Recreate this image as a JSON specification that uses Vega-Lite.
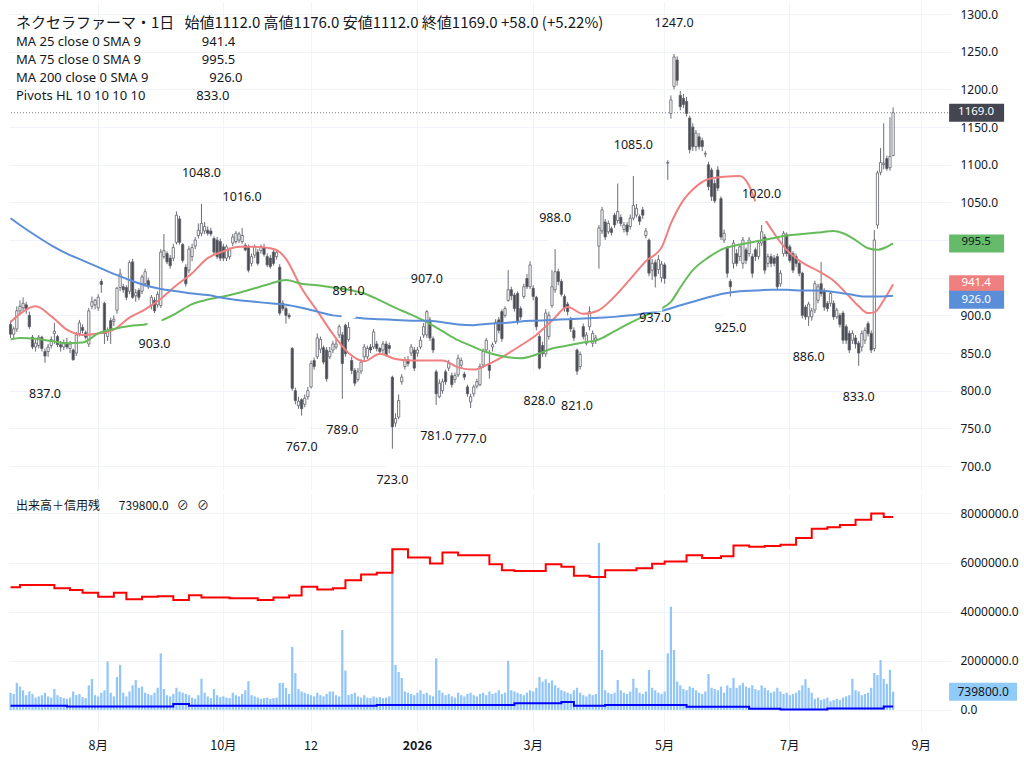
{
"$schema": "https://vega.github.io/schema/vega-lite/v6.json",
"background": "#ffffff",
"padding": {"left": 6, "top": 2, "right": 0, "bottom": 0},
"config": {"view": {"stroke": null}, "text": {"font": "Noto Sans"}},
"datasets": {
"k": [
{"d":"2025-06-23","o":888,"h":893,"l":870,"c":875,"v":700000,"m1":891,"m2":868,"m3":1029,"cr":4990000,"cs":170000},
{"d":"2025-06-24","o":875,"h":885,"l":868,"c":882,"v":650000},
{"d":"2025-06-25","o":882,"h":912,"l":878,"c":906,"v":1100000},
{"d":"2025-06-26","o":906,"h":920,"l":900,"c":912,"v":950000,"m1":902,"m2":870,"m3":1020,"cr":5080000},
{"d":"2025-06-27","o":910,"h":924,"l":905,"c":916,"v":800000},
{"d":"2025-06-30","o":914,"h":918,"l":902,"c":908,"v":600000},
{"d":"2025-07-01","o":900,"h":905,"l":882,"c":885,"v":750000},
{"d":"2025-07-02","o":871,"h":874,"l":855,"c":858,"v":650000},
{"d":"2025-07-03","o":858,"h":868,"l":852,"c":863,"v":500000,"m1":912,"m2":869,"m3":1006},
{"d":"2025-07-04","o":860,"h":874,"l":856,"c":871,"v":550000},
{"d":"2025-07-07","o":871,"h":873,"l":852,"c":856,"v":600000},
{"d":"2025-07-08","o":852,"h":856,"l":837,"c":846,"v":700000},
{"d":"2025-07-09","o":852,"h":862,"l":845,"c":858,"v":550000},
{"d":"2025-07-10","o":860,"h":872,"l":856,"c":868,"v":500000,"m1":899,"m2":866,"m3":993},
{"d":"2025-07-11","o":876,"h":890,"l":862,"c":879,"v":850000,"cr":4950000},
{"d":"2025-07-14","o":872,"h":874,"l":858,"c":861,"v":600000},
{"d":"2025-07-15","o":861,"h":866,"l":852,"c":858,"v":520000},
{"d":"2025-07-16","o":858,"h":868,"l":854,"c":864,"v":480000},
{"d":"2025-07-17","o":864,"h":870,"l":855,"c":858,"v":450000,"m1":881,"m2":863,"m3":982,"cs":140000},
{"d":"2025-07-18","o":856,"h":866,"l":850,"c":862,"v":500000,"cr":4880000},
{"d":"2025-07-22","o":854,"h":856,"l":840,"c":841,"v":750000},
{"d":"2025-07-23","o":850,"h":878,"l":846,"c":874,"v":600000},
{"d":"2025-07-24","o":876,"h":894,"l":872,"c":890,"v":650000},
{"d":"2025-07-25","o":884,"h":888,"l":876,"c":880,"v":520000,"m1":874,"m2":864,"m3":973,"cr":4770000},
{"d":"2025-07-28","o":877,"h":880,"l":868,"c":871,"v":480000},
{"d":"2025-07-29","o":862,"h":910,"l":858,"c":906,"v":1000000},
{"d":"2025-07-30","o":912,"h":925,"l":908,"c":918,"v":1260000},
{"d":"2025-07-31","o":914,"h":922,"l":908,"c":920,"v":600000},
{"d":"2025-08-01","o":910,"h":928,"l":906,"c":924,"v":550000,"m1":876,"m2":876,"m3":964,"cr":4610000},
{"d":"2025-08-04","o":945,"h":948,"l":930,"c":941,"v":700000},
{"d":"2025-08-05","o":916,"h":918,"l":862,"c":876,"v":800000},
{"d":"2025-08-06","o":872,"h":884,"l":866,"c":880,"v":1970000},
{"d":"2025-08-07","o":893,"h":897,"l":862,"c":880,"v":700000},
{"d":"2025-08-08","o":892,"h":900,"l":886,"c":895,"v":550000,"m1":881,"m2":882,"m3":955,"cr":4770000},
{"d":"2025-08-12","o":907,"h":938,"l":902,"c":936,"v":1340000},
{"d":"2025-08-13","o":937,"h":962,"l":932,"c":955,"v":1830000},
{"d":"2025-08-14","o":938,"h":942,"l":930,"c":934,"v":700000},
{"d":"2025-08-15","o":937,"h":940,"l":920,"c":924,"v":550000,"cr":4500000},
{"d":"2025-08-18","o":932,"h":973,"l":928,"c":970,"v":750000,"m1":897,"m2":886,"m3":947},
{"d":"2025-08-19","o":971,"h":975,"l":922,"c":924,"v":1000000},
{"d":"2025-08-20","o":926,"h":935,"l":918,"c":930,"v":1220000},
{"d":"2025-08-21","o":933,"h":936,"l":920,"c":924,"v":900000},
{"d":"2025-08-22","o":932,"h":954,"l":928,"c":951,"v":950000,"cr":4610000},
{"d":"2025-08-25","o":942,"h":962,"l":938,"c":958,"v":700000,"m1":908,"m2":888,"m3":940},
{"d":"2025-08-26","o":946,"h":950,"l":935,"c":938,"v":650000},
{"d":"2025-08-27","o":913,"h":927,"l":908,"c":924,"v":600000},
{"d":"2025-08-28","o":920,"h":924,"l":903,"c":906,"v":700000},
{"d":"2025-08-29","o":914,"h":932,"l":910,"c":928,"v":900000,"cr":4630000},
{"d":"2025-09-01","o":913,"h":988,"l":910,"c":984,"v":2300000,"m1":922,"m2":893,"m3":935},
{"d":"2025-09-02","o":978,"h":1008,"l":975,"c":986,"v":850000},
{"d":"2025-09-03","o":982,"h":985,"l":968,"c":971,"v":600000},
{"d":"2025-09-04","o":976,"h":980,"l":962,"c":966,"v":550000},
{"d":"2025-09-05","o":976,"h":995,"l":972,"c":990,"v":650000,"cr":4470000,"cs":240000},
{"d":"2025-09-08","o":997,"h":1038,"l":994,"c":1033,"v":900000,"m1":940,"m2":903,"m3":932},
{"d":"2025-09-09","o":1028,"h":1032,"l":994,"c":997,"v":750000},
{"d":"2025-09-10","o":994,"h":996,"l":970,"c":973,"v":700000},
{"d":"2025-09-11","o":964,"h":968,"l":938,"c":942,"v":650000},
{"d":"2025-09-12","o":960,"h":992,"l":956,"c":988,"v":600000,"cr":4670000,"cs":170000},
{"d":"2025-09-16","o":978,"h":995,"l":972,"c":990,"v":500000,"m1":956,"m2":915,"m3":929},
{"d":"2025-09-17","o":992,"h":1004,"l":988,"c":1000,"v":450000},
{"d":"2025-09-18","o":1006,"h":1022,"l":1002,"c":1013,"v":600000},
{"d":"2025-09-19","o":1009,"h":1048,"l":1005,"c":1022,"v":1270000,"cr":4580000},
{"d":"2025-09-22","o":1012,"h":1024,"l":1008,"c":1018,"v":700000},
{"d":"2025-09-24","o":1013,"h":1018,"l":1006,"c":1009,"v":550000,"m1":976,"m2":921,"m3":927},
{"d":"2025-09-25","o":1012,"h":1016,"l":1005,"c":1008,"v":480000},
{"d":"2025-09-26","o":1002,"h":1005,"l":980,"c":984,"v":850000},
{"d":"2025-09-29","o":1000,"h":1004,"l":975,"c":978,"v":600000},
{"d":"2025-09-30","o":998,"h":1002,"l":972,"c":976,"v":520000},
{"d":"2025-10-01","o":991,"h":995,"l":972,"c":976,"v":550000,"m1":985,"m2":925,"m3":923},
{"d":"2025-10-02","o":976,"h":994,"l":972,"c":991,"v":500000},
{"d":"2025-10-03","o":978,"h":990,"l":974,"c":987,"v":480000,"cr":4550000},
{"d":"2025-10-06","o":996,"h":1008,"l":992,"c":1004,"v":700000},
{"d":"2025-10-07","o":998,"h":1012,"l":995,"c":1009,"v":600000},
{"d":"2025-10-08","o":1000,"h":1011,"l":996,"c":1008,"v":550000,"m1":991,"m2":930,"m3":920},
{"d":"2025-10-09","o":998,"h":1016,"l":995,"c":1006,"v":650000},
{"d":"2025-10-10","o":993,"h":996,"l":985,"c":987,"v":800000},
{"d":"2025-10-14","o":991,"h":994,"l":957,"c":960,"v":1170000},
{"d":"2025-10-15","o":969,"h":982,"l":965,"c":978,"v":600000},
{"d":"2025-10-16","o":980,"h":994,"l":976,"c":991,"v":550000,"m1":991,"m2":936,"m3":918},
{"d":"2025-10-17","o":984,"h":988,"l":966,"c":969,"v":500000,"cr":4470000},
{"d":"2025-10-20","o":986,"h":994,"l":982,"c":991,"v":450000},
{"d":"2025-10-21","o":990,"h":995,"l":978,"c":981,"v":480000},
{"d":"2025-10-22","o":978,"h":982,"l":964,"c":967,"v":500000},
{"d":"2025-10-23","o":976,"h":980,"l":962,"c":965,"v":450000,"m1":989,"m2":942,"m3":916},
{"d":"2025-10-24","o":984,"h":988,"l":966,"c":969,"v":480000,"cr":4580000},
{"d":"2025-10-27","o":978,"h":988,"l":974,"c":984,"v":500000},
{"d":"2025-10-28","o":964,"h":968,"l":900,"c":903,"v":1100000,"m1":984},
{"d":"2025-10-29","o":916,"h":920,"l":906,"c":909,"v":1100000},
{"d":"2025-10-30","o":909,"h":912,"l":889,"c":900,"v":900000,"m1":975,"m2":947,"m3":914},
{"d":"2025-10-31","o":900,"h":903,"l":895,"c":898,"v":650000,"cr":4660000},
{"d":"2025-11-04","o":856,"h":858,"l":800,"c":803,"v":2570000},
{"d":"2025-11-05","o":800,"h":804,"l":782,"c":787,"v":1500000},
{"d":"2025-11-06","o":780,"h":792,"l":776,"c":786,"v":850000},
{"d":"2025-11-07","o":788,"h":790,"l":767,"c":776,"v":750000,"m1":936,"m2":942,"m3":910,"cr":5010000},
{"d":"2025-11-10","o":782,"h":795,"l":778,"c":790,"v":700000},
{"d":"2025-11-11","o":792,"h":805,"l":788,"c":800,"v":650000},
{"d":"2025-11-12","o":805,"h":840,"l":803,"c":836,"v":600000},
{"d":"2025-11-13","o":840,"h":844,"l":828,"c":832,"v":550000},
{"d":"2025-11-14","o":845,"h":876,"l":842,"c":870,"v":700000,"m1":906,"m2":940,"m3":905,"cr":4900000},
{"d":"2025-11-17","o":855,"h":872,"l":850,"c":868,"v":600000},
{"d":"2025-11-18","o":857,"h":860,"l":835,"c":838,"v":550000},
{"d":"2025-11-19","o":854,"h":858,"l":812,"c":816,"v":650000},
{"d":"2025-11-20","o":845,"h":858,"l":842,"c":852,"v":750000},
{"d":"2025-11-21","o":854,"h":866,"l":850,"c":862,"v":750000,"m1":875,"m2":937,"m3":900,"cr":4950000},
{"d":"2025-11-25","o":858,"h":870,"l":855,"c":862,"v":600000},
{"d":"2025-11-26","o":874,"h":888,"l":870,"c":885,"v":550000},
{"d":"2025-11-27","o":874,"h":878,"l":789,"c":836,"v":3250000},
{"d":"2025-11-28","o":887,"h":889,"l":845,"c":849,"v":1600000,"cr":5280000},
{"d":"2025-12-01","o":868,"h":891,"l":865,"c":884,"v":600000,"m1":850,"m2":934,"m3":898},
{"d":"2025-12-02","o":840,"h":845,"l":822,"c":827,"v":650000},
{"d":"2025-12-03","o":827,"h":830,"l":806,"c":810,"v":700000},
{"d":"2025-12-04","o":815,"h":830,"l":812,"c":825,"v":550000},
{"d":"2025-12-05","o":826,"h":842,"l":822,"c":838,"v":500000,"cr":5510000},
{"d":"2025-12-08","o":845,"h":862,"l":840,"c":858,"v":600000,"m1":839,"m2":929,"m3":896},
{"d":"2025-12-09","o":845,"h":860,"l":842,"c":856,"v":500000},
{"d":"2025-12-10","o":858,"h":862,"l":850,"c":854,"v":480000},
{"d":"2025-12-11","o":858,"h":882,"l":855,"c":878,"v":550000},
{"d":"2025-12-12","o":862,"h":866,"l":852,"c":856,"v":500000,"cr":5580000,"cs":200000},
{"d":"2025-12-15","o":856,"h":858,"l":848,"c":852,"v":520000,"m1":849,"m2":920,"m3":895},
{"d":"2025-12-16","o":854,"h":866,"l":850,"c":862,"v":480000},
{"d":"2025-12-17","o":862,"h":866,"l":845,"c":847,"v":500000},
{"d":"2025-12-18","o":860,"h":864,"l":850,"c":856,"v":550000},
{"d":"2025-12-19","o":818,"h":820,"l":723,"c":752,"v":6580000,"cr":6540000},
{"d":"2025-12-22","o":757,"h":770,"l":752,"c":763,"v":1830000,"m1":842,"m2":910,"m3":894},
{"d":"2025-12-23","o":765,"h":795,"l":762,"c":787,"v":1540000},
{"d":"2025-12-24","o":812,"h":822,"l":808,"c":818,"v":1300000},
{"d":"2025-12-25","o":832,"h":845,"l":828,"c":841,"v":750000},
{"d":"2025-12-26","o":841,"h":846,"l":832,"c":836,"v":700000,"cr":6200000},
{"d":"2025-12-29","o":850,"h":862,"l":846,"c":858,"v":650000,"m1":840,"m2":901,"m3":893},
{"d":"2025-12-30","o":854,"h":858,"l":826,"c":830,"v":600000},
{"d":"2026-01-05","o":850,"h":858,"l":845,"c":854,"v":700000},
{"d":"2026-01-06","o":858,"h":872,"l":855,"c":867,"v":800000},
{"d":"2026-01-07","o":874,"h":890,"l":870,"c":885,"v":650000},
{"d":"2026-01-08","o":874,"h":907,"l":870,"c":905,"v":700000,"m1":840,"m2":891,"m3":893},
{"d":"2026-01-09","o":894,"h":898,"l":866,"c":870,"v":600000,"cr":5960000},
{"d":"2026-01-13","o":869,"h":872,"l":850,"c":854,"v":550000},
{"d":"2026-01-14","o":825,"h":828,"l":781,"c":796,"v":2100000},
{"d":"2026-01-15","o":792,"h":815,"l":790,"c":810,"v":800000},
{"d":"2026-01-16","o":800,"h":816,"l":796,"c":812,"v":700000,"m1":840,"m2":879,"m3":891,"cr":6410000},
{"d":"2026-01-19","o":825,"h":828,"l":808,"c":812,"v":600000},
{"d":"2026-01-20","o":830,"h":841,"l":826,"c":836,"v":650000},
{"d":"2026-01-21","o":820,"h":824,"l":804,"c":808,"v":550000},
{"d":"2026-01-22","o":815,"h":824,"l":810,"c":820,"v":500000},
{"d":"2026-01-23","o":821,"h":848,"l":818,"c":843,"v":700000,"m1":831,"m2":867,"m3":888,"cr":6300000},
{"d":"2026-01-26","o":834,"h":844,"l":830,"c":840,"v":600000},
{"d":"2026-01-27","o":822,"h":825,"l":814,"c":818,"v":550000},
{"d":"2026-01-28","o":805,"h":808,"l":792,"c":796,"v":650000},
{"d":"2026-01-29","o":785,"h":796,"l":777,"c":792,"v":700000},
{"d":"2026-01-30","o":796,"h":808,"l":792,"c":805,"v":600000,"m1":828,"m2":858,"m3":887},
{"d":"2026-02-02","o":806,"h":816,"l":803,"c":812,"v":550000},
{"d":"2026-02-03","o":808,"h":836,"l":806,"c":832,"v":650000},
{"d":"2026-02-04","o":834,"h":856,"l":830,"c":852,"v":700000},
{"d":"2026-02-05","o":854,"h":870,"l":850,"c":867,"v":600000},
{"d":"2026-02-06","o":834,"h":854,"l":816,"c":827,"v":750000,"m1":836,"m2":850,"m3":889,"cr":5930000},
{"d":"2026-02-09","o":858,"h":864,"l":852,"c":861,"v":650000},
{"d":"2026-02-10","o":865,"h":895,"l":862,"c":891,"v":700000},
{"d":"2026-02-12","o":894,"h":898,"l":876,"c":880,"v":800000},
{"d":"2026-02-13","o":905,"h":908,"l":865,"c":869,"v":650000,"cr":5690000},
{"d":"2026-02-16","o":900,"h":912,"l":897,"c":909,"v":700000,"m1":847,"m2":845,"m3":890},
{"d":"2026-02-17","o":920,"h":960,"l":918,"c":934,"v":2000000},
{"d":"2026-02-18","o":934,"h":938,"l":920,"c":926,"v":800000},
{"d":"2026-02-19","o":927,"h":930,"l":905,"c":909,"v":750000,"cr":5650000,"cs":270000},
{"d":"2026-02-20","o":929,"h":932,"l":888,"c":892,"v":700000},
{"d":"2026-02-24","o":909,"h":912,"l":894,"c":898,"v":650000,"m1":860,"m2":843,"m3":892},
{"d":"2026-02-25","o":925,"h":942,"l":922,"c":938,"v":600000},
{"d":"2026-02-26","o":949,"h":955,"l":935,"c":938,"v":700000},
{"d":"2026-02-27","o":938,"h":972,"l":935,"c":967,"v":800000},
{"d":"2026-03-02","o":936,"h":940,"l":920,"c":925,"v":750000},
{"d":"2026-03-03","o":924,"h":926,"l":880,"c":885,"v":900000,"m1":874,"m2":848,"m3":893},
{"d":"2026-03-04","o":872,"h":875,"l":828,"c":830,"v":1340000},
{"d":"2026-03-05","o":860,"h":865,"l":845,"c":849,"v":1150000},
{"d":"2026-03-06","o":849,"h":908,"l":845,"c":903,"v":1250000,"cr":5930000},
{"d":"2026-03-09","o":872,"h":905,"l":868,"c":900,"v":1100000},
{"d":"2026-03-10","o":913,"h":960,"l":910,"c":938,"v":1200000,"m1":893,"m2":856,"m3":894},
{"d":"2026-03-11","o":934,"h":988,"l":930,"c":958,"v":1000000},
{"d":"2026-03-12","o":958,"h":962,"l":940,"c":945,"v":900000},
{"d":"2026-03-13","o":945,"h":948,"l":925,"c":928,"v":800000,"cr":5830000,"cs":320000},
{"d":"2026-03-16","o":925,"h":928,"l":905,"c":910,"v":750000},
{"d":"2026-03-17","o":915,"h":918,"l":900,"c":905,"v":700000,"m1":911,"m2":860,"m3":895},
{"d":"2026-03-18","o":895,"h":898,"l":878,"c":882,"v":650000},
{"d":"2026-03-19","o":880,"h":884,"l":866,"c":870,"v":800000,"cr":5460000,"cs":170000},
{"d":"2026-03-23","o":854,"h":856,"l":821,"c":826,"v":900000},
{"d":"2026-03-24","o":832,"h":852,"l":828,"c":848,"v":700000},
{"d":"2026-03-25","o":885,"h":889,"l":868,"c":872,"v":600000,"m1":902,"m2":864,"m3":896},
{"d":"2026-03-26","o":863,"h":878,"l":860,"c":874,"v":550000},
{"d":"2026-03-27","o":885,"h":912,"l":880,"c":905,"v":650000,"cr":5410000},
{"d":"2026-03-30","o":863,"h":880,"l":858,"c":876,"v":600000},
{"d":"2026-03-31","o":866,"h":874,"l":862,"c":870,"v":650000},
{"d":"2026-04-01","o":992,"h":1020,"l":962,"c":1016,"v":6800000,"m1":907,"m2":868,"m3":897},
{"d":"2026-04-02","o":1012,"h":1044,"l":1008,"c":1040,"v":2440000},
{"d":"2026-04-03","o":1024,"h":1028,"l":1000,"c":1004,"v":800000,"cr":5690000,"cs":200000},
{"d":"2026-04-06","o":1011,"h":1026,"l":1008,"c":1022,"v":700000},
{"d":"2026-04-07","o":1015,"h":1018,"l":1006,"c":1010,"v":650000},
{"d":"2026-04-08","o":1033,"h":1036,"l":1016,"c":1020,"v":700000,"m1":925,"m2":879,"m3":898},
{"d":"2026-04-09","o":1026,"h":1075,"l":1022,"c":1038,"v":1220000},
{"d":"2026-04-10","o":1030,"h":1034,"l":1018,"c":1022,"v":800000},
{"d":"2026-04-13","o":1014,"h":1024,"l":1010,"c":1020,"v":700000},
{"d":"2026-04-14","o":1020,"h":1024,"l":1006,"c":1011,"v":650000},
{"d":"2026-04-15","o":1018,"h":1034,"l":1014,"c":1029,"v":750000,"m1":948,"m2":890,"m3":900},
{"d":"2026-04-16","o":1029,"h":1085,"l":1026,"c":1046,"v":1270000},
{"d":"2026-04-17","o":1033,"h":1048,"l":1030,"c":1042,"v":900000,"cr":5770000},
{"d":"2026-04-20","o":1031,"h":1034,"l":1020,"c":1025,"v":700000},
{"d":"2026-04-21","o":1040,"h":1044,"l":1028,"c":1033,"v":650000},
{"d":"2026-04-22","o":1006,"h":1016,"l":1002,"c":1012,"v":750000,"m1":972,"m2":900,"m3":903},
{"d":"2026-04-23","o":1000,"h":1002,"l":952,"c":956,"v":1630000},
{"d":"2026-04-24","o":960,"h":975,"l":947,"c":969,"v":900000,"cr":5950000},
{"d":"2026-04-27","o":970,"h":974,"l":937,"c":952,"v":800000},
{"d":"2026-04-28","o":961,"h":980,"l":955,"c":974,"v":700000},
{"d":"2026-04-30","o":950,"h":972,"l":944,"c":968,"v":650000,"m1":990,"m2":909,"m3":906},
{"d":"2026-05-01","o":967,"h":970,"l":942,"c":949,"v":750000,"cr":6040000},
{"d":"2026-05-07","o":1102,"h":1106,"l":1080,"c":1103,"v":2300000},
{"d":"2026-05-08","o":1168,"h":1192,"l":1161,"c":1186,"v":4200000,"m1":1022,"m2":918},
{"d":"2026-05-11","o":1204,"h":1247,"l":1200,"c":1243,"v":2440000},
{"d":"2026-05-12","o":1239,"h":1244,"l":1205,"c":1212,"v":1150000,"m3":912},
{"d":"2026-05-13","o":1192,"h":1198,"l":1172,"c":1177,"v":1000000,"m2":937},
{"d":"2026-05-14","o":1188,"h":1194,"l":1175,"c":1180,"v":850000,"m1":1053},
{"d":"2026-05-15","o":1184,"h":1190,"l":1164,"c":1168,"v":800000,"cr":6300000,"cs":130000},
{"d":"2026-05-18","o":1162,"h":1165,"l":1115,"c":1120,"v":950000},
{"d":"2026-05-19","o":1150,"h":1155,"l":1118,"c":1124,"v":900000,"m1":1067,"m2":960,"m3":918},
{"d":"2026-05-20","o":1124,"h":1146,"l":1118,"c":1142,"v":800000},
{"d":"2026-05-21","o":1137,"h":1142,"l":1120,"c":1124,"v":700000},
{"d":"2026-05-22","o":1132,"h":1136,"l":1118,"c":1124,"v":650000,"cr":6180000},
{"d":"2026-05-25","o":1114,"h":1118,"l":1110,"c":1115,"v":750000},
{"d":"2026-05-26","o":1100,"h":1104,"l":1066,"c":1071,"v":1460000,"m1":1081,"m2":977,"m3":924},
{"d":"2026-05-27","o":1093,"h":1096,"l":1052,"c":1058,"v":900000},
{"d":"2026-05-28","o":1075,"h":1080,"l":1049,"c":1052,"v":850000},
{"d":"2026-05-29","o":1093,"h":1098,"l":1065,"c":1069,"v":800000},
{"d":"2026-06-01","o":1055,"h":1058,"l":1000,"c":1004,"v":950000,"cr":6250000},
{"d":"2026-06-02","o":1000,"h":1014,"l":996,"c":1009,"v":700000,"m1":1084,"m2":989,"m3":929},
{"d":"2026-06-03","o":989,"h":992,"l":950,"c":956,"v":1000000},
{"d":"2026-06-04","o":945,"h":948,"l":925,"c":938,"v":900000},
{"d":"2026-06-05","o":969,"h":1000,"l":962,"c":996,"v":1300000,"cr":6690000},
{"d":"2026-06-08","o":982,"h":988,"l":965,"c":969,"v":900000},
{"d":"2026-06-09","o":978,"h":995,"l":972,"c":991,"v":1000000,"m1":1085,"m2":994,"m3":932},
{"d":"2026-06-10","o":969,"h":1004,"l":962,"c":1000,"v":1100000},
{"d":"2026-06-11","o":987,"h":990,"l":968,"c":973,"v":950000},
{"d":"2026-06-12","o":982,"h":1004,"l":978,"c":1000,"v":900000,"m1":1072,"cr":6640000,"cs":50000},
{"d":"2026-06-15","o":978,"h":982,"l":950,"c":956,"v":1000000},
{"d":"2026-06-16","o":987,"h":990,"l":972,"c":978,"v":850000,"m1":1051,"m2":998,"m3":933},
{"d":"2026-06-17","o":978,"h":1000,"l":974,"c":996,"v":800000},
{"d":"2026-06-18","o":996,"h":1020,"l":992,"c":1011,"v":1000000},
{"d":"2026-06-19","o":1004,"h":1008,"l":955,"c":960,"v":900000,"cr":6670000},
{"d":"2026-06-22","o":969,"h":982,"l":964,"c":978,"v":800000},
{"d":"2026-06-23","o":978,"h":982,"l":964,"c":969,"v":700000,"m1":1015,"m2":1002,"m3":934},
{"d":"2026-06-24","o":976,"h":980,"l":965,"c":969,"v":750000},
{"d":"2026-06-25","o":978,"h":982,"l":934,"c":938,"v":900000},
{"d":"2026-06-26","o":942,"h":960,"l":938,"c":956,"v":750000,"cr":6720000,"cs":20000},
{"d":"2026-06-29","o":982,"h":1012,"l":978,"c":1009,"v":650000},
{"d":"2026-06-30","o":1007,"h":1010,"l":978,"c":982,"v":700000,"m1":987,"m2":1006,"m3":934},
{"d":"2026-07-01","o":991,"h":994,"l":970,"c":973,"v":600000},
{"d":"2026-07-02","o":982,"h":985,"l":956,"c":960,"v":650000},
{"d":"2026-07-03","o":978,"h":982,"l":964,"c":969,"v":700000,"cr":7000000},
{"d":"2026-07-06","o":969,"h":972,"l":952,"c":956,"v":800000},
{"d":"2026-07-07","o":956,"h":958,"l":896,"c":900,"v":1000000,"m1":970,"m2":1008,"m3":933},
{"d":"2026-07-08","o":911,"h":914,"l":894,"c":898,"v":1250000},
{"d":"2026-07-09","o":898,"h":918,"l":886,"c":915,"v":900000},
{"d":"2026-07-10","o":898,"h":910,"l":893,"c":906,"v":700000,"cr":7370000},
{"d":"2026-07-13","o":907,"h":946,"l":903,"c":942,"v":450000},
{"d":"2026-07-14","o":920,"h":942,"l":916,"c":938,"v":500000,"m1":959,"m2":1010,"m3":933},
{"d":"2026-07-15","o":942,"h":971,"l":925,"c":929,"v":400000},
{"d":"2026-07-16","o":933,"h":936,"l":906,"c":911,"v":450000},
{"d":"2026-07-17","o":916,"h":919,"l":905,"c":909,"v":500000,"cr":7440000,"cs":60000},
{"d":"2026-07-21","o":916,"h":932,"l":912,"c":929,"v":350000},
{"d":"2026-07-22","o":916,"h":920,"l":894,"c":898,"v":400000,"m1":946,"m2":1012,"m3":931},
{"d":"2026-07-23","o":898,"h":910,"l":895,"c":907,"v":450000},
{"d":"2026-07-24","o":900,"h":903,"l":884,"c":888,"v":400000,"cr":7530000},
{"d":"2026-07-27","o":903,"h":906,"l":862,"c":867,"v":500000,"m2":1009},
{"d":"2026-07-28","o":885,"h":888,"l":862,"c":867,"v":550000},
{"d":"2026-07-29","o":876,"h":880,"l":850,"c":854,"v":600000,"m1":925,"m3":928},
{"d":"2026-07-30","o":867,"h":880,"l":862,"c":876,"v":1270000},
{"d":"2026-07-31","o":870,"h":874,"l":856,"c":862,"v":800000,"m2":1000,"cr":7740000},
{"d":"2026-08-03","o":863,"h":866,"l":833,"c":850,"v":750000,"m1":912},
{"d":"2026-08-04","o":858,"h":880,"l":852,"c":876,"v":600000},
{"d":"2026-08-05","o":867,"h":884,"l":862,"c":880,"v":650000,"m3":925},
{"d":"2026-08-06","o":889,"h":892,"l":872,"c":876,"v":700000,"m1":903,"m2":989},
{"d":"2026-08-07","o":876,"h":880,"l":850,"c":854,"v":900000,"cr":8000000},
{"d":"2026-08-10","o":856,"h":1013,"l":852,"c":1000,"v":1500000,"m1":904},
{"d":"2026-08-12","o":1020,"h":1092,"l":1015,"c":1089,"v":1420000,"m2":987},
{"d":"2026-08-13","o":1090,"h":1122,"l":1086,"c":1103,"v":2030000,"m3":925},
{"d":"2026-08-14","o":1100,"h":1155,"l":1094,"c":1102,"v":1260000,"m1":920,"cr":7850000,"cs":140000},
{"d":"2026-08-17","o":1108,"h":1112,"l":1092,"c":1095,"v":1060000,"m2":991},
{"d":"2026-08-18","o":1096,"h":1163,"l":1092,"c":1111,"v":1630000},
{"d":"2026-08-19","o":1112,"h":1176,"l":1112,"c":1169,"v":739800,"m1":941.4,"m2":995.5,"m3":926,"cr":7850000,"cs":140000},
{"d":"2026-08-20"},{"d":"2026-08-21"},{"d":"2026-08-24"},{"d":"2026-08-25"},{"d":"2026-08-26"},{"d":"2026-08-27"},{"d":"2026-08-28"},{"d":"2026-08-31"},{"d":"2026-09-01"},{"d":"2026-09-02"},{"d":"2026-09-03"},{"d":"2026-09-04"},{"d":"2026-09-07"},{"d":"2026-09-08"},{"d":"2026-09-09"},{"d":"2026-09-10"},{"d":"2026-09-11"},{"d":"2026-09-14"}
],
"p": [
{"d":"2025-09-19","p":1048,"t":"H"},{"d":"2025-10-09","p":1016,"t":"H"},{"d":"2025-12-01","p":891,"t":"H"},{"d":"2026-01-08","p":907,"t":"H"},{"d":"2026-03-11","p":988,"t":"H"},{"d":"2026-04-16","p":1085,"t":"H"},{"d":"2026-05-11","p":1247,"t":"H"},{"d":"2026-06-18","p":1020,"t":"H"},
{"d":"2025-07-08","p":837,"t":"L"},{"d":"2025-08-28","p":903,"t":"L"},{"d":"2025-11-07","p":767,"t":"L"},{"d":"2025-11-27","p":789,"t":"L"},{"d":"2025-12-19","p":723,"t":"L"},{"d":"2026-01-14","p":781,"t":"L"},{"d":"2026-01-29","p":777,"t":"L"},{"d":"2026-03-04","p":828,"t":"L"},{"d":"2026-03-23","p":821,"t":"L"},{"d":"2026-04-27","p":937,"t":"L"},{"d":"2026-06-04","p":925,"t":"L"},{"d":"2026-07-09","p":886,"t":"L"},{"d":"2026-08-03","p":833,"t":"L"}
]
},
"spacing": 4,
"vconcat": [
{
"width": 942,
"height": 487,
"data": {"name": "k"},
"title": {
"text": "ネクセラファーマ・1日\u00a0\u00a0\u00a0始値1112.0 高値1176.0 安値1112.0 終値1169.0 +58.0 (+5.22%)",
"subtitle": ["MA 25 close 0 SMA 9\u00a0\u00a0\u00a0\u00a0\u00a0\u00a0\u00a0\u00a0\u00a0\u00a0\u00a0\u00a0\u00a0\u00a0\u00a0\u00a0\u00a0\u00a0941.4", "MA 75 close 0 SMA 9\u00a0\u00a0\u00a0\u00a0\u00a0\u00a0\u00a0\u00a0\u00a0\u00a0\u00a0\u00a0\u00a0\u00a0\u00a0\u00a0\u00a0\u00a0995.5", "MA 200 close 0 SMA 9\u00a0\u00a0\u00a0\u00a0\u00a0\u00a0\u00a0\u00a0\u00a0\u00a0\u00a0\u00a0\u00a0\u00a0\u00a0\u00a0\u00a0\u00a0926.0", "Pivots HL 10 10 10 10\u00a0\u00a0\u00a0\u00a0\u00a0\u00a0\u00a0\u00a0\u00a0\u00a0\u00a0\u00a0\u00a0\u00a0\u00a0833.0"],
"anchor": "start", "frame": "group", "orient": "top", "offset": 0, "dx": 7, "dy": 101,
"font": "Noto Sans CJK JP", "fontSize": 15, "fontWeight": "normal", "color": "#131722",
"subtitleFont": "Noto Sans", "subtitleFontSize": 13, "subtitleColor": "#131722", "subtitlePadding": 5, "subtitleLineHeight": 18
},
"layer": [
{"mark": {"type": "text", "text": ""},
 "encoding": {"x": {"field": "d", "type": "ordinal", "scale": {"type": "band", "paddingInner": 0, "paddingOuter": 0},
   "axis": {"values": ["2025-08-01","2025-10-01","2025-11-12","2026-01-05","2026-03-02","2026-05-01","2026-07-01","2026-09-01"], "labels": false, "grid": true, "gridColor": "#f0f3fa", "ticks": false, "domain": false, "title": null, "bandPosition": 0.5}}}},
{"transform": [{"filter": "datum.d == '2026-08-19'"}],
 "mark": {"type": "rule", "strokeDash": [1, 2], "color": "#787b86", "strokeWidth": 1},
 "encoding": {"y": {"field": "c", "type": "quantitative", "scale": {"domain": [669.5, 1316], "nice": false, "zero": false},
   "axis": {"orient": "right", "values": [700,750,800,850,900,950,1000,1050,1100,1150,1200,1250,1300], "labelExpr": "datum.value == 950 || datum.value == 1000 ? '' : format(datum.value, '.1f')", "grid": true, "gridColor": "#f0f3fa", "ticks": false, "domain": false, "labelPadding": 9, "title": null, "labelFontSize": 12, "labelColor": "#131722", "labelFont": "Noto Sans"}}}},
{"transform": [{"filter": "isValid(datum.c)"}],
 "mark": {"type": "rule", "color": "#6b6e78", "strokeWidth": 1},
 "encoding": {"x": {"field": "d", "type": "ordinal", "scale": {"type": "band", "paddingInner": 0, "paddingOuter": 0}},
   "y": {"field": "l", "type": "quantitative", "scale": {"domain": [669.5, 1316], "nice": false, "zero": false}}, "y2": {"field": "h"}}},
{"transform": [{"filter": "isValid(datum.c)"}],
 "mark": {"type": "bar", "width": {"band": 0.72}, "stroke": "#5f6169", "strokeWidth": 0.8},
 "encoding": {"x": {"field": "d", "type": "ordinal", "scale": {"type": "band", "paddingInner": 0, "paddingOuter": 0}},
   "y": {"field": "o", "type": "quantitative", "scale": {"domain": [669.5, 1316], "nice": false, "zero": false}}, "y2": {"field": "c"},
   "fill": {"condition": {"test": "datum.c >= datum.o", "value": "#ffffff"}, "value": "#4a4b52"}}},
{"transform": [{"filter": "isValid(datum.m1)"}],
 "mark": {"type": "line", "color": "#f08080", "strokeWidth": 2, "interpolate": "monotone"},
 "encoding": {"x": {"field": "d", "type": "ordinal", "scale": {"type": "band", "paddingInner": 0, "paddingOuter": 0}},
   "y": {"field": "m1", "type": "quantitative", "scale": {"domain": [669.5, 1316], "nice": false, "zero": false}}}},
{"transform": [{"filter": "isValid(datum.m2)"}],
 "mark": {"type": "line", "color": "#66bb5a", "strokeWidth": 2, "interpolate": "monotone"},
 "encoding": {"x": {"field": "d", "type": "ordinal", "scale": {"type": "band", "paddingInner": 0, "paddingOuter": 0}},
   "y": {"field": "m2", "type": "quantitative", "scale": {"domain": [669.5, 1316], "nice": false, "zero": false}}}},
{"transform": [{"filter": "isValid(datum.m3)"}],
 "mark": {"type": "line", "color": "#5b8ed8", "strokeWidth": 2, "interpolate": "monotone"},
 "encoding": {"x": {"field": "d", "type": "ordinal", "scale": {"type": "band", "paddingInner": 0, "paddingOuter": 0}},
   "y": {"field": "m3", "type": "quantitative", "scale": {"domain": [669.5, 1316], "nice": false, "zero": false}}}},
{"data": {"name": "p"}, "transform": [{"filter": "datum.t == 'H'"}],
 "mark": {"type": "point", "shape": "M-0.7,-2.4H0.7V-0.4H-0.7Z", "size": 400, "filled": true, "color": "#ffffff", "opacity": 1, "strokeWidth": 0},
 "encoding": {"x": {"field": "d", "type": "ordinal", "scale": {"type": "band", "paddingInner": 0, "paddingOuter": 0}},
   "y": {"field": "p", "type": "quantitative", "scale": {"domain": [669.5, 1316], "nice": false, "zero": false}}}},
{"data": {"name": "p"}, "transform": [{"filter": "datum.t == 'L'"}],
 "mark": {"type": "point", "shape": "M-0.7,0.4H0.7V2.4H-0.7Z", "size": 400, "filled": true, "color": "#ffffff", "opacity": 1, "strokeWidth": 0},
 "encoding": {"x": {"field": "d", "type": "ordinal", "scale": {"type": "band", "paddingInner": 0, "paddingOuter": 0}},
   "y": {"field": "p", "type": "quantitative", "scale": {"domain": [669.5, 1316], "nice": false, "zero": false}}}},
{"data": {"name": "p"}, "transform": [{"filter": "datum.t == 'H'"}],
 "mark": {"type": "text", "dy": -31, "fontSize": 12.5, "color": "#131722", "font": "Noto Sans", "baseline": "middle"},
 "encoding": {"x": {"field": "d", "type": "ordinal", "scale": {"type": "band", "paddingInner": 0, "paddingOuter": 0}},
   "y": {"field": "p", "type": "quantitative", "scale": {"domain": [669.5, 1316], "nice": false, "zero": false}},
   "text": {"field": "p", "type": "quantitative", "format": ".1f"}}},
{"data": {"name": "p"}, "transform": [{"filter": "datum.t == 'L'"}],
 "mark": {"type": "text", "dy": 31, "fontSize": 12.5, "color": "#131722", "font": "Noto Sans", "baseline": "middle"},
 "encoding": {"x": {"field": "d", "type": "ordinal", "scale": {"type": "band", "paddingInner": 0, "paddingOuter": 0}},
   "y": {"field": "p", "type": "quantitative", "scale": {"domain": [669.5, 1316], "nice": false, "zero": false}},
   "text": {"field": "p", "type": "quantitative", "format": ".1f"}}},
{"transform": [{"filter": "datum.d == '2026-08-19'"}, {"fold": ["c", "m1", "m2"], "as": ["key", "val"]}],
 "mark": {"type": "point", "shape": "M5.6,-0.9H11.1V0.9H5.6Z", "size": 400, "filled": true, "opacity": 1, "strokeWidth": 0},
 "encoding": {"x": {"field": "d", "type": "ordinal", "scale": {"type": "band", "paddingInner": 0, "paddingOuter": 0}},
   "y": {"field": "val", "type": "quantitative", "scale": {"domain": [669.5, 1316], "nice": false, "zero": false}},
   "color": {"field": "key", "type": "nominal", "scale": {"domain": ["c", "m1", "m2"], "range": ["#434651", "#f08080", "#66bb6a"]}, "legend": null}}},
{"transform": [{"filter": "datum.d == '2026-08-19'"}],
 "mark": {"type": "point", "shape": "M5.6,-0.5H11.1V1.3H5.6Z", "size": 400, "filled": true, "opacity": 1, "strokeWidth": 0, "color": "#5b8ed8"},
 "encoding": {"x": {"field": "d", "type": "ordinal", "scale": {"type": "band", "paddingInner": 0, "paddingOuter": 0}},
   "y": {"field": "m3", "type": "quantitative", "scale": {"domain": [669.5, 1316], "nice": false, "zero": false}}}},
{"transform": [{"filter": "datum.d == '2026-08-19'"}, {"fold": ["c", "m1", "m2"], "as": ["key", "val"]}],
 "mark": {"type": "text", "dx": 83, "dy": -1, "fontSize": 11.5, "font": "Noto Sans", "baseline": "middle", "align": "center"},
 "encoding": {"x": {"field": "d", "type": "ordinal", "scale": {"type": "band", "paddingInner": 0, "paddingOuter": 0}},
   "y": {"field": "val", "type": "quantitative", "scale": {"domain": [669.5, 1316], "nice": false, "zero": false}},
   "text": {"field": "val", "type": "quantitative", "format": ".1f"},
   "color": {"condition": {"test": "datum.key == 'm2'", "value": "#131722"}, "value": "#ffffff"}}},
{"transform": [{"filter": "datum.d == '2026-08-19'"}],
 "mark": {"type": "text", "dx": 83, "dy": 4, "fontSize": 11.5, "font": "Noto Sans", "baseline": "middle", "align": "center", "color": "#ffffff"},
 "encoding": {"x": {"field": "d", "type": "ordinal", "scale": {"type": "band", "paddingInner": 0, "paddingOuter": 0}},
   "y": {"field": "m3", "type": "quantitative", "scale": {"domain": [669.5, 1316], "nice": false, "zero": false}},
   "text": {"field": "m3", "type": "quantitative", "format": ".1f"}}}
]
},
{
"width": 942,
"height": 239,
"data": {"name": "k"},
"title": {"text": "出来高＋信用残\u00a0\u00a0\u00a0\u00a0\u00a0\u00a0\u00a0739800.0\u00a0\u00a0\u00a0⊘\u00a0\u00a0\u00a0⊘", "anchor": "start", "frame": "group", "orient": "top", "offset": 0, "dx": 7, "dy": 20, "font": "Noto Sans CJK JP", "fontSize": 12, "fontWeight": "normal", "color": "#131722"},
"layer": [
{"mark": {"type": "text", "text": ""},
 "encoding": {"x": {"field": "d", "type": "ordinal", "scale": {"type": "band", "paddingInner": 0, "paddingOuter": 0},
   "axis": {"values": ["2025-08-01","2025-10-01","2025-11-12","2026-01-05","2026-03-02","2026-05-01","2026-07-01","2026-09-01"],
     "labelExpr": "datum.value=='2025-08-01'?'8月':datum.value=='2025-10-01'?'10月':datum.value=='2025-11-12'?'12':datum.value=='2026-01-05'?'2026':datum.value=='2026-03-02'?'3月':datum.value=='2026-05-01'?'5月':datum.value=='2026-07-01'?'7月':'9月'",
     "labelFontWeight": {"condition": {"test": "datum.value == '2026-01-05'", "value": "bold"}, "value": "normal"},
     "grid": true, "gridColor": "#f0f3fa", "ticks": false, "domain": false, "title": null, "labelAngle": 0, "labelPadding": 7, "labelFontSize": 12.5, "labelColor": "#131722", "labelFont": "Noto Sans CJK JP", "bandPosition": 0.5, "labelOverlap": false}}}},
{"transform": [{"filter": "isValid(datum.v)"}],
 "mark": {"type": "bar", "width": {"band": 0.72}, "color": "#93c6f8"},
 "encoding": {"x": {"field": "d", "type": "ordinal", "scale": {"type": "band", "paddingInner": 0, "paddingOuter": 0}},
   "y": {"field": "v", "type": "quantitative", "scale": {"domain": [-900000, 8830000], "nice": false, "zero": false},
     "axis": {"orient": "right", "values": [0, 2000000, 4000000, 6000000, 8000000], "format": ".1f", "grid": true, "gridColor": "#f0f3fa", "ticks": false, "domain": false, "labelPadding": 9, "title": null, "labelFontSize": 12, "labelColor": "#131722", "labelFont": "Noto Sans"}}}},
{"transform": [{"filter": "isValid(datum.cr)"}],
 "mark": {"type": "line", "color": "#ff0000", "strokeWidth": 2, "interpolate": "step-after"},
 "encoding": {"x": {"field": "d", "type": "ordinal", "scale": {"type": "band", "paddingInner": 0, "paddingOuter": 0}},
   "y": {"field": "cr", "type": "quantitative", "scale": {"domain": [-900000, 8830000], "nice": false, "zero": false}}}},
{"transform": [{"filter": "isValid(datum.cs)"}],
 "mark": {"type": "line", "color": "#0000ff", "strokeWidth": 2, "interpolate": "step-after"},
 "encoding": {"x": {"field": "d", "type": "ordinal", "scale": {"type": "band", "paddingInner": 0, "paddingOuter": 0}},
   "y": {"field": "cs", "type": "quantitative", "scale": {"domain": [-900000, 8830000], "nice": false, "zero": false}}}},
{"transform": [{"filter": "datum.d == '2026-08-19'"}],
 "mark": {"type": "point", "shape": "M5.6,-0.9H12.4V0.9H5.6Z", "size": 400, "filled": true, "opacity": 1, "strokeWidth": 0, "color": "#90caf9"},
 "encoding": {"x": {"field": "d", "type": "ordinal", "scale": {"type": "band", "paddingInner": 0, "paddingOuter": 0}},
   "y": {"field": "v", "type": "quantitative", "scale": {"domain": [-900000, 8830000], "nice": false, "zero": false}}}},
{"transform": [{"filter": "datum.d == '2026-08-19'"}],
 "mark": {"type": "text", "dx": 90, "fontSize": 12, "font": "Noto Sans", "baseline": "middle", "align": "center", "color": "#131722"},
 "encoding": {"x": {"field": "d", "type": "ordinal", "scale": {"type": "band", "paddingInner": 0, "paddingOuter": 0}},
   "y": {"field": "v", "type": "quantitative", "scale": {"domain": [-900000, 8830000], "nice": false, "zero": false}},
   "text": {"field": "v", "type": "quantitative", "format": ".1f"}}}
]
}
]
}
